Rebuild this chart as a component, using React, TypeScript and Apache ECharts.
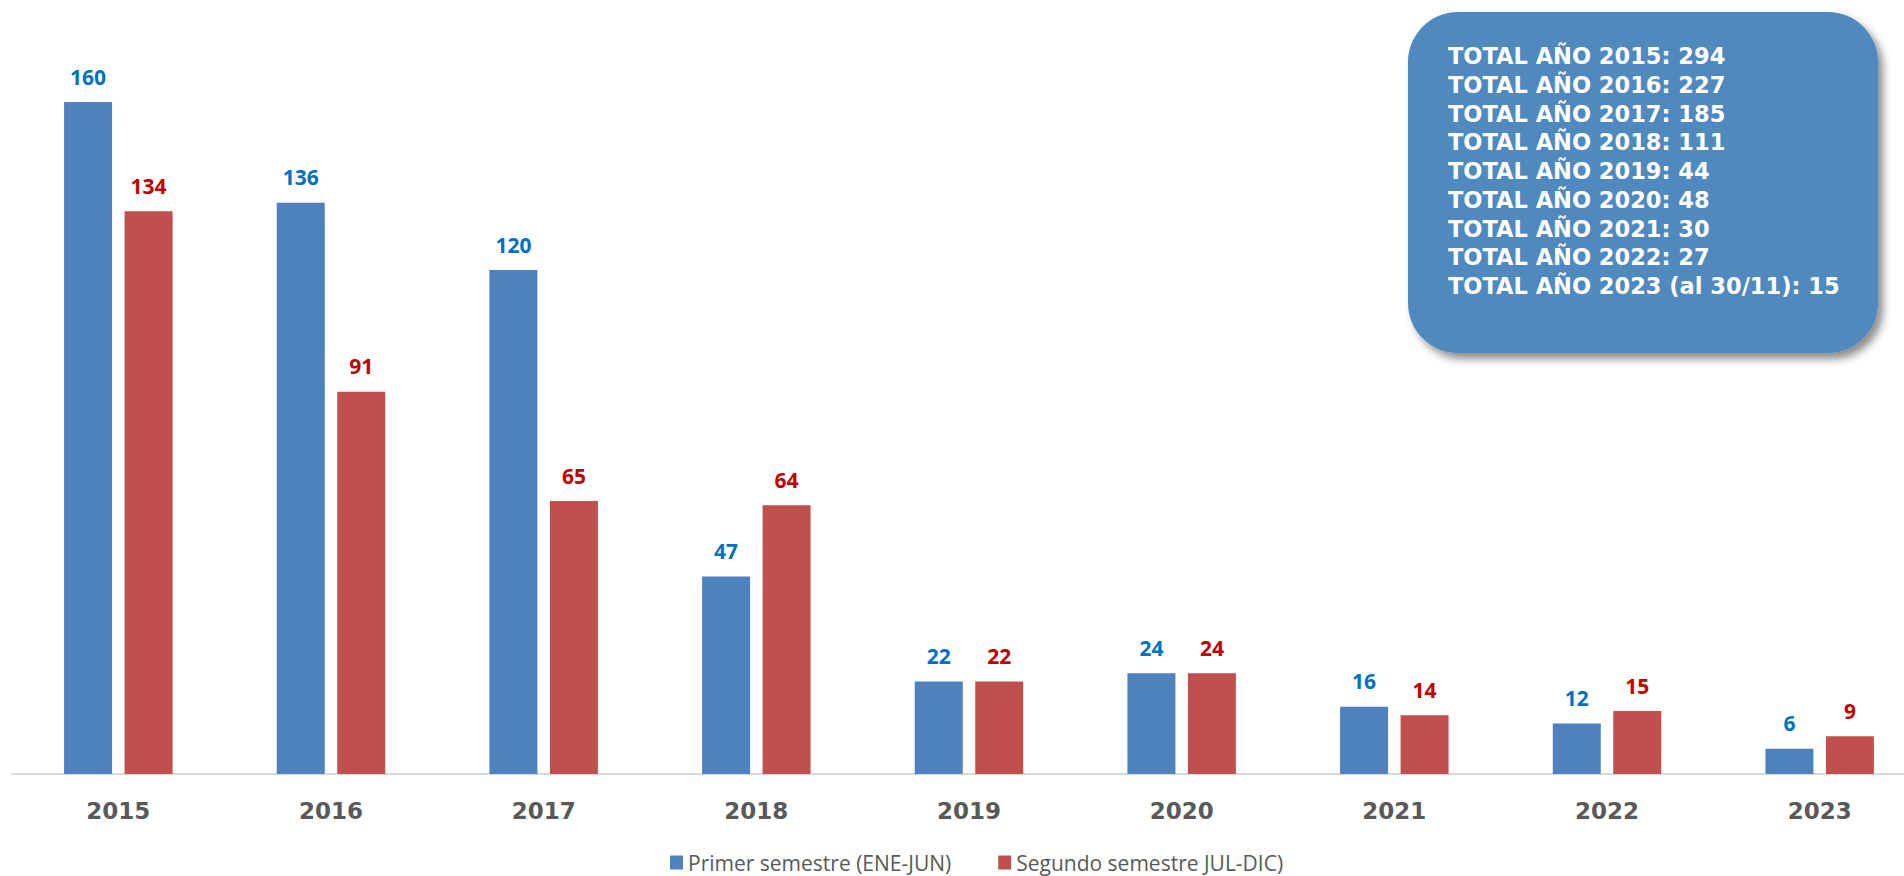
import React, { useEffect, useRef } from "react";
import * as echarts from "echarts";

const years = ["2015", "2016", "2017", "2018", "2019", "2020", "2021", "2022", "2023"];
const firstSemester = [160, 136, 120, 47, 22, 24, 16, 12, 6];
const secondSemester = [134, 91, 65, 64, 22, 24, 14, 15, 9];
const seriesNames = ["Primer semestre (ENE-JUN)", "Segundo semestre JUL-DIC)"];
const yearNotes = ["", "", "", "", "", "", "", "", " (al 30/11)"];

export default function App() {
  const ref = useRef<HTMLDivElement>(null);

  useEffect(() => {
    if (!ref.current) return;
    const chart = echarts.init(ref.current, undefined, { renderer: "svg" });
    const totalLines = years
      .map((y, i) => `TOTAL AÑO ${y}${yearNotes[i]}: ${firstSemester[i] + secondSemester[i]}`)
      .join("\n");

    const labelBase = {
      show: true,
      position: "top" as const,
      distance: 15,
      fontFamily: "Open Sans",
      fontWeight: "bold" as const,
      fontSize: 21,
    };

    chart.setOption({
      animation: false,
      backgroundColor: "#ffffff",
      grid: { left: 12, right: 0, top: 18, bottom: 102, containLabel: false },
      xAxis: {
        type: "category",
        data: years,
        axisLine: { show: true, lineStyle: { color: "#D9D9D9", width: 2 } },
        axisTick: { show: false },
        axisLabel: {
          margin: 25,
          color: "#595959",
          fontFamily: "DejaVu Sans",
          fontWeight: "bold",
          fontSize: 23,
        },
      },
      yAxis: {
        type: "value",
        min: 0,
        max: 180,
        show: false,
        splitLine: { show: false },
      },
      legend: {
        left: 665,
        top: 847,
        itemWidth: 13,
        itemHeight: 14,
        itemGap: 47,
        icon: "rect",
        textStyle: { fontFamily: "Open Sans", fontSize: 21, lineHeight: 21, color: "#595959" },
        data: seriesNames,
      },
      series: [
        {
          name: seriesNames[0],
          type: "bar",
          data: firstSemester,
          barWidth: 48,
          barGap: "26%",
          itemStyle: { color: "#4F81BD" },
          label: { ...labelBase, color: "#0070C0" },
        },
        {
          name: seriesNames[1],
          type: "bar",
          data: secondSemester,
          barWidth: 48,
          barGap: "26%",
          itemStyle: { color: "#C0504D" },
          label: { ...labelBase, color: "#C00000" },
        },
      ],
      graphic: [
        {
          type: "rect",
          shape: { x: 1408, y: 12, width: 470, height: 341, r: 50 },
          style: {
            fill: "#4F89BD",
            shadowBlur: 8,
            shadowOffsetX: 5,
            shadowOffsetY: 6,
            shadowColor: "rgba(0,0,0,0.45)",
          },
          z: 10,
        },
        {
          type: "text",
          x: 1448,
          y: 42,
          z: 11,
          style: {
            text: totalLines,
            fill: "#ffffff",
            fontFamily: "DejaVu Sans",
            fontWeight: "bold",
            fontSize: 22.5,
            lineHeight: 28.7,
            verticalAlign: "top",
            align: "left",
          },
        },
      ],
    });

    return () => chart.dispose();
  }, []);

  return (
    <div style={{ position: "absolute", left: 0, top: 0, width: 1904, height: 876, overflow: "hidden" }}>
      <div ref={ref} style={{ position: "absolute", left: 0, top: 0, width: 1926, height: 876 }} />
    </div>
  );
}
